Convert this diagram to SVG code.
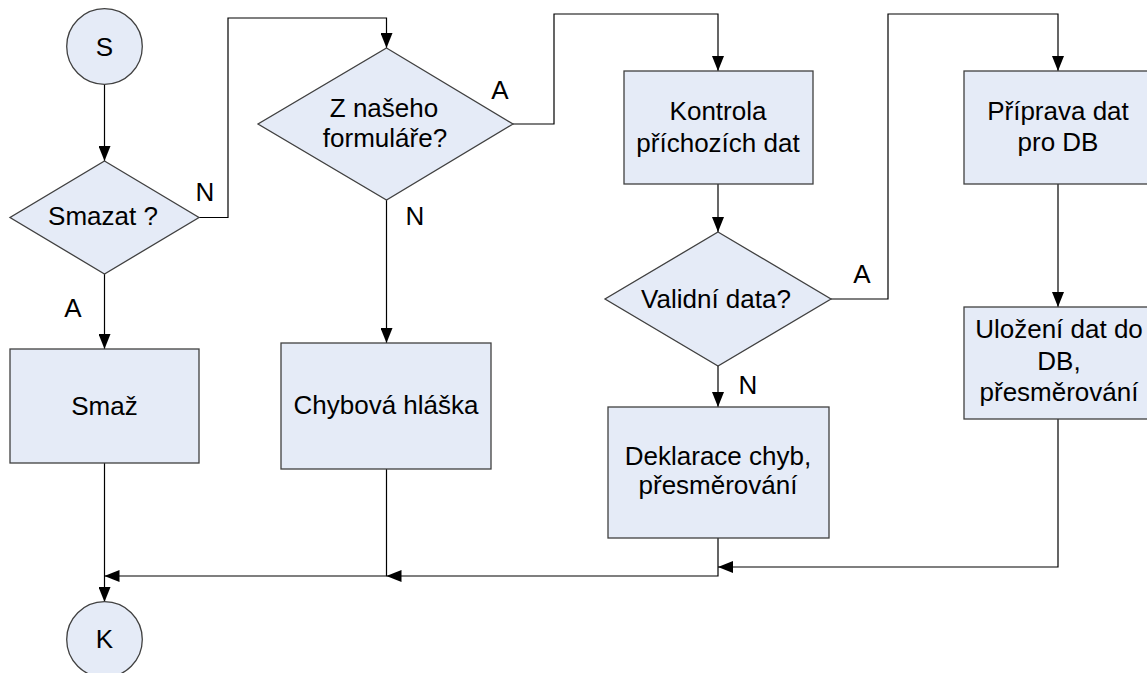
<svg xmlns="http://www.w3.org/2000/svg" width="1147" height="673" viewBox="0 0 1147 673">
<defs>
<marker id="arr" markerUnits="userSpaceOnUse" markerWidth="15" markerHeight="12" refX="15" refY="6" orient="auto" viewBox="0 0 15 12">
<path d="M0,0 L15,6 L0,12 z" fill="#000"/>
</marker>
<style>
.shape{fill:#E5EBF7;stroke:#404040;stroke-width:1.3}
.t{font-family:"Liberation Sans",Arial,sans-serif;font-size:26px;fill:#000;text-anchor:middle}
.conn path{fill:none;stroke:#000;stroke-width:1.2;marker-end:url(#arr)}
</style>
</defs>
<rect width="1147" height="673" fill="#fff"/>
<g id="connectors" class="conn">
<path d="M104.5 84 V161"/>
<path d="M199 217.5 H228 V18 H386.5 V48"/>
<path d="M104.5 274 V349"/>
<path d="M513 124 H554 V14 H718 V71"/>
<path d="M386.5 200 V343"/>
<path d="M718 184 V232"/>
<path d="M831 299 H888 V14 H1058 V71"/>
<path d="M718 366 V407"/>
<path d="M1058 184 V307"/>
<path d="M1058 419 V567 H718"/>
<path d="M718 538 V576 H386.5"/>
<path d="M386.5 469 V576 H104.5"/>
<path d="M104.5 463 V602"/>
</g>
<g id="labels">
<text class="t" x="205" y="201">N</text>
<text class="t" x="73" y="317">A</text>
<text class="t" x="500" y="99">A</text>
<text class="t" x="415" y="225">N</text>
<text class="t" x="862" y="283">A</text>
<text class="t" x="748" y="394">N</text>
</g>
<g id="start">
<circle class="shape" cx="104.5" cy="46.5" r="37.8"/>
<text class="t" x="104.5" y="55.5">S</text>
</g>
<g id="smazat">
<polygon class="shape" points="104.5,161 199,217.5 104.5,274 10,217.5"/>
<text class="t" x="103" y="224.5">Smazat ?</text>
</g>
<g id="smaz">
<rect class="shape" x="10" y="349" width="189" height="114"/>
<text class="t" x="104.5" y="414.5">Smaž</text>
</g>
<g id="formular">
<polygon class="shape" points="386.5,48 513,124 386.5,200 258,124"/>
<text class="t" x="384" y="117">Z našeho</text>
<text class="t" x="385" y="147">formuláře?</text>
</g>
<g id="chybova">
<rect class="shape" x="281" y="343" width="210" height="126"/>
<text class="t" x="386" y="414">Chybová hláška</text>
</g>
<g id="kontrola">
<rect class="shape" x="624" y="71" width="189" height="113"/>
<text class="t" x="718" y="119.5">Kontrola</text>
<text class="t" x="718" y="151.5">příchozích dat</text>
</g>
<g id="validni">
<polygon class="shape" points="718,232 831,299 718,366 605,299"/>
<text class="t" x="716" y="307.5">Validní data?</text>
</g>
<g id="deklarace">
<rect class="shape" x="608" y="407" width="221" height="131"/>
<text class="t" x="718" y="464.5">Deklarace chyb,</text>
<text class="t" x="718" y="494">přesměrování</text>
</g>
<g id="priprava">
<rect class="shape" x="964" y="71" width="188" height="113"/>
<text class="t" x="1058" y="119.5">Příprava dat</text>
<text class="t" x="1058" y="151">pro DB</text>
</g>
<g id="ulozeni">
<rect class="shape" x="964" y="307" width="188" height="112"/>
<text class="t" x="1059" y="337.5">Uložení dat do</text>
<text class="t" x="1059" y="370">DB,</text>
<text class="t" x="1059" y="401">přesměrování</text>
</g>
<g id="end">
<circle class="shape" cx="104.5" cy="639.5" r="37.8"/>
<text class="t" x="104.5" y="648">K</text>
</g>
</svg>
